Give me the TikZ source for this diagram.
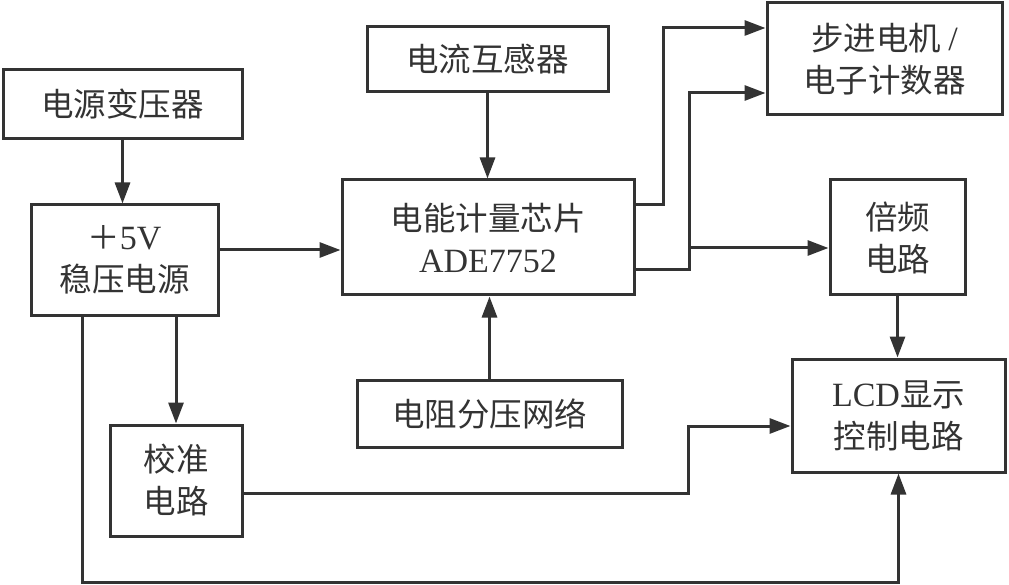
\documentclass[tikz,border=0pt]{standalone}
\usepackage{fontspec}
\setmainfont{Liberation Serif}
\newfontfamily\cjk{Noto Sans CJK SC}
\usetikzlibrary{arrows.meta,calc}
\definecolor{ink}{HTML}{333333}
\tikzset{
  blk/.style={draw=ink,line width=3pt,text=ink,align=center,inner sep=0pt,
    font=\fontsize{32.5}{42}\selectfont\cjk},
  arr/.style={draw=ink,line width=3pt,-{Triangle[length=21pt,width=15pt]}},
  lat/.style={},
}
\newcommand{\lt}[1]{{\fontspec{Liberation Serif}\fontsize{34}{42}\selectfont #1}}
\begin{document}
\begin{tikzpicture}[x=1pt,y=-1pt]
\useasboundingbox (0,0) rectangle (1009,585);
\node[blk,minimum width=239,minimum height=69] (trans) at (122.5,104.5) {电源变压器};
\node[blk,minimum width=187,minimum height=110] (psu) at (124.5,260) {＋\lt{5V}\\稳压电源};
\node[blk,minimum width=241,minimum height=65] (ct) at (487.5,59.5) {电流互感器};
\node[blk,minimum width=292,minimum height=115] (chip) at (488,237.5) {电能计量芯片\\\lt{ADE7752}};
\node[blk,minimum width=235,minimum height=112] (motor) at (884.5,59) {步进电机 \lt{/}\\电子计数器};
\node[blk,minimum width=135,minimum height=115] (mult) at (897.5,237.5) {倍频\\电路};
\node[blk,minimum width=213,minimum height=113] (lcd) at (898.5,415.5) {\lt{LCD}显示\\控制电路};
\node[blk,minimum width=265,minimum height=67] (res) at (489.5,413.5) {电阻分压网络};
\node[blk,minimum width=132,minimum height=111] (cal) at (176,480.5) {校准\\电路};
% connectors
\draw[arr] (trans.south) -- (trans.south |- psu.north);
\coordinate (pe) at ([yshift=10pt]psu.east);
\draw[arr] (pe) -- (pe -| chip.west);
\draw[arr] (ct.south) -- (ct.south |- chip.north);
\draw[arr] (res.north) -- (res.north |- chip.south);
\coordinate (c1) at ([yshift=32.5pt]chip.east);
\coordinate (m1) at ([yshift=31pt]motor.west);
\draw[arr] (c1) -- ++(28,0) |- (m1);
\coordinate (c2) at ([yshift=-32.5pt]chip.east);
\coordinate (j) at ([xshift=54pt,yshift=-32.5pt]chip.east);
\coordinate (m2) at ([yshift=-34pt]motor.west);
\draw[arr] (c2) -- (j) |- (m2);
\coordinate (mw) at ([yshift=-10.5pt]mult.west);
\draw[arr] (mw -| j) -- (mw);
\draw[arr] (mult.south) -- (mult.south |- lcd.north);
\draw[arr] (cal.north |- psu.south) -- (cal.north);
\coordinate (pl) at ([xshift=-42.5pt]psu.south);
\coordinate (bot) at (0,582);
\draw[arr] (pl) -- (pl |- bot) -| (lcd.south);
\coordinate (ce) at ([yshift=-12.5pt]cal.east);
\coordinate (lw) at ([yshift=-10.5pt]lcd.west);
\draw[arr] (ce) -- ++(445,0) |- (lw);
\end{tikzpicture}
\end{document}
